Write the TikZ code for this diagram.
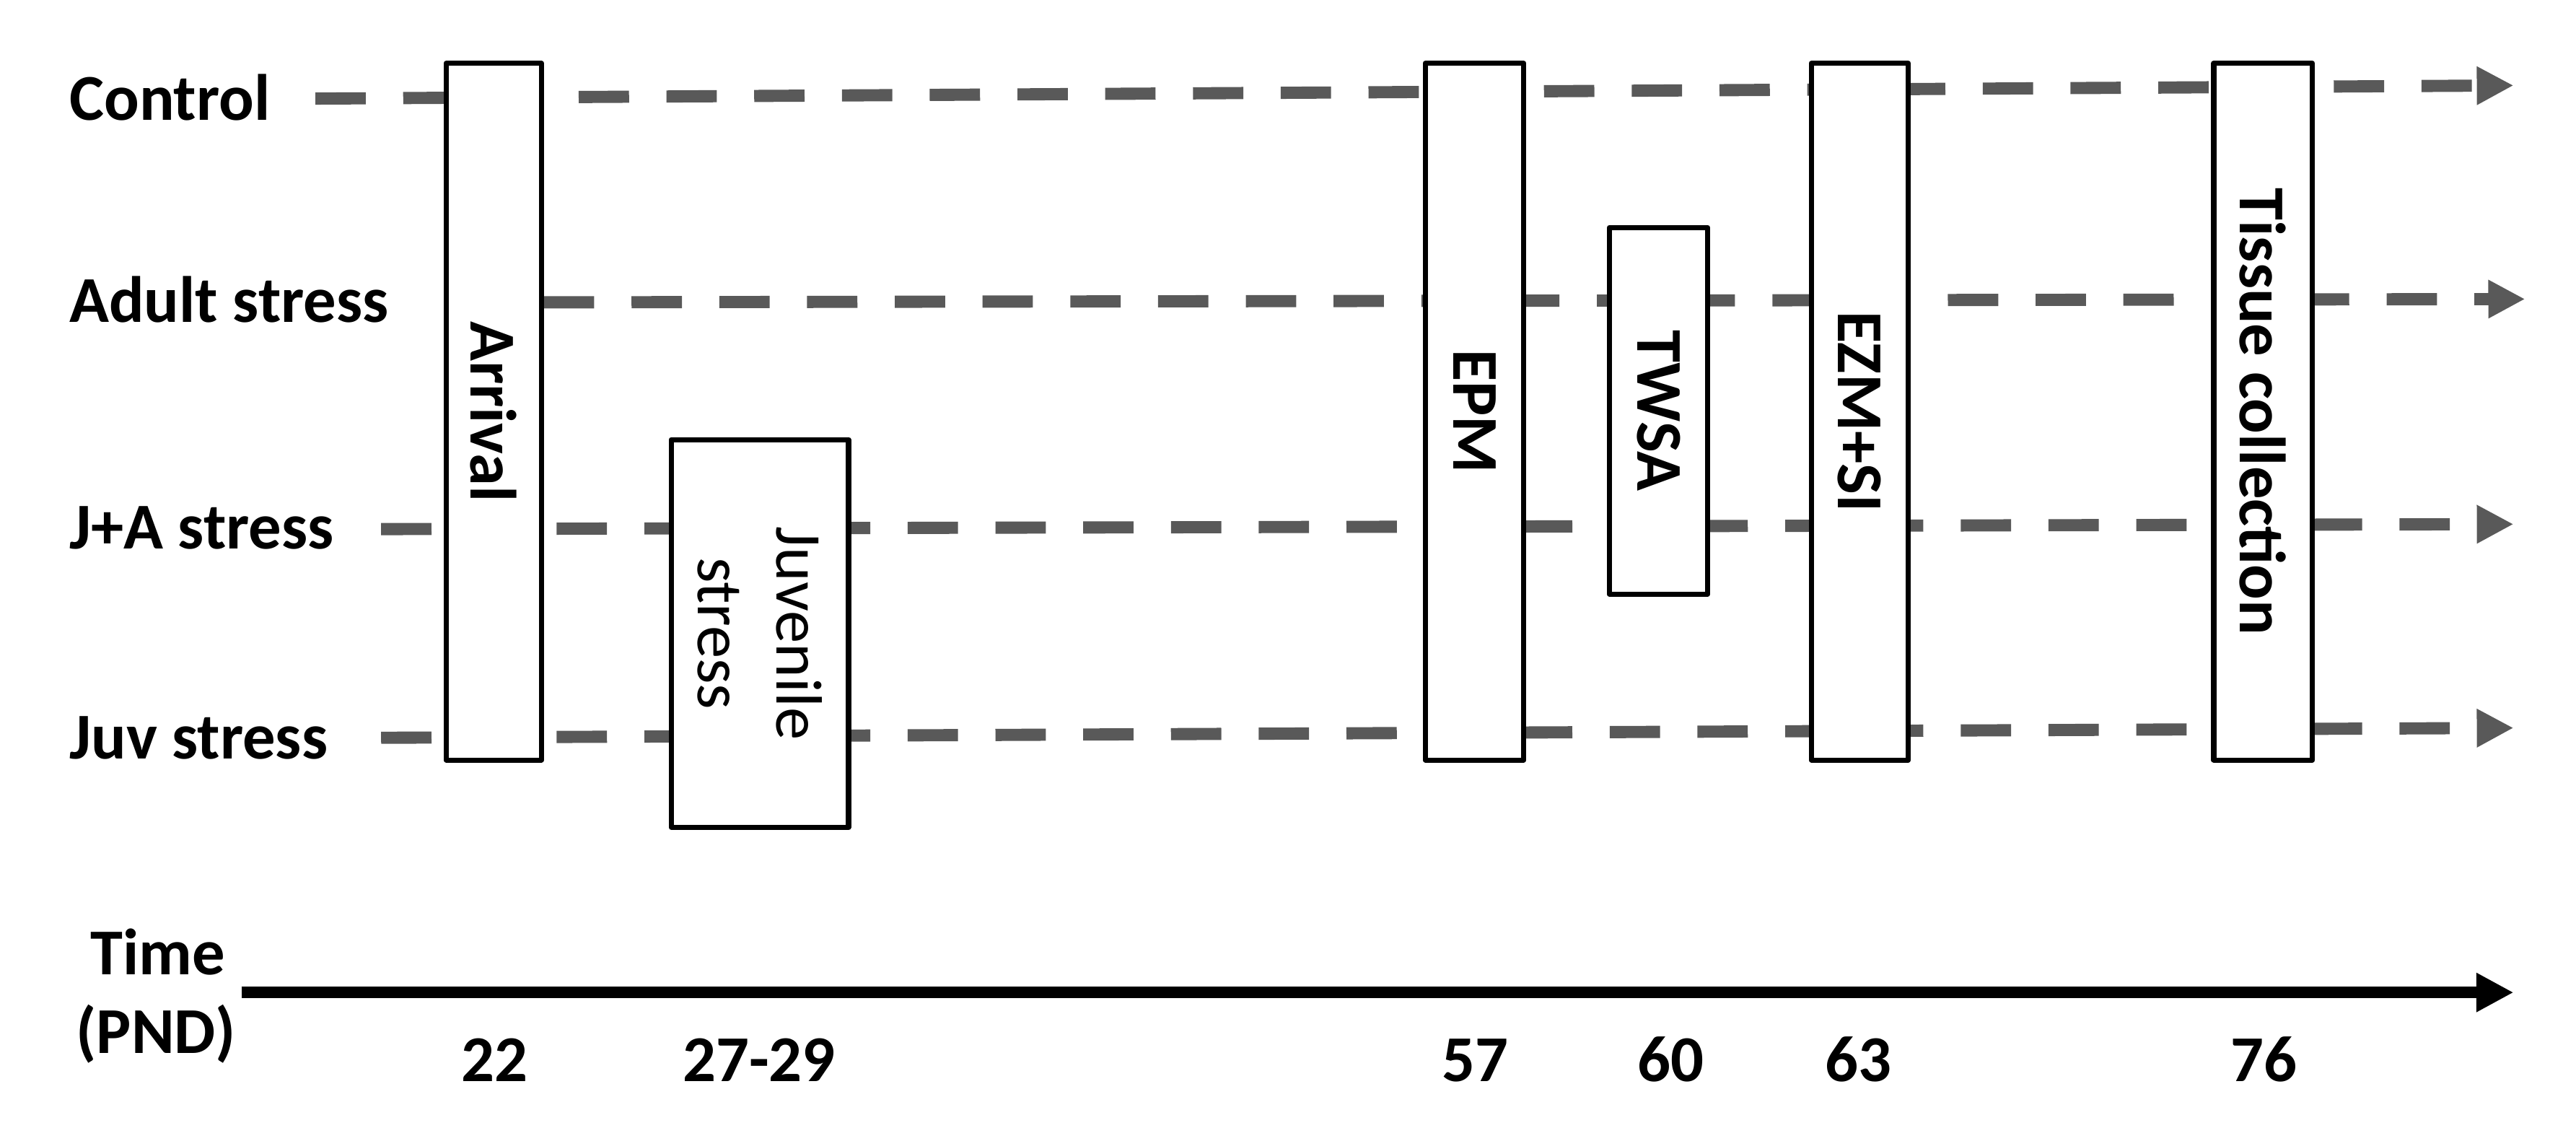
\documentclass[tikz,border=0pt]{standalone}
\usepackage{fontspec}
\setmainfont{Carlito}
\usetikzlibrary{arrows.meta}
\definecolor{dashgray}{HTML}{595959}
\begin{document}
\begin{tikzpicture}[x=0.022768cm,y=-0.022768cm,
  txt/.style={font=\fontsize{25.8}{31}\selectfont\bfseries, inner sep=0pt},
  rowline/.style={draw=dashgray, line width=4.8pt, dash pattern=on 19.85pt off 14.75pt,
    -{Triangle[length=14.5pt,width=14.2pt]}},
  box/.style={draw=black, fill=white, line width=2pt, line join=round, rotate=-90,
    inner sep=0pt, align=center, font=\fontsize{25.8}{31}\selectfont\bfseries},
  axisline/.style={draw=black, line width=4.6pt, -{Triangle[length=14.7pt,width=14.5pt]}}]
\useasboundingbox (0,0) rectangle (1568,694);

% row labels
\node[txt, anchor=base west] (lcontrol) at (42,73) {Control};
\node[txt, anchor=base west] (ladult) at (42,196) {Adult stress};
\node[txt, anchor=base west] (lja) at (42,334) {J+A stress};
\node[txt, anchor=base west] (ljuv) at (42,462) {Juv stress};

% rows
\coordinate (c0) at (192,60);  \coordinate (c1) at (1530,52);
\coordinate (a0) at (331,184); \coordinate (a1) at (1537,182);
\coordinate (j0) at (232,322); \coordinate (j1) at (1530,319);
\coordinate (v0) at (232,449); \coordinate (v1) at (1530,443);
\draw[rowline] (c0) -- (c1);
\draw[rowline] (a0) -- (a1);
\draw[rowline] (j0) -- (j1);
\draw[rowline] (v0) -- (v1);

% boxes
\node[box, minimum width=9.654cm, minimum height=1.321cm] (arrival) at (300.5,250.5) {Arrival};
\node[box, minimum width=5.373cm, minimum height=2.459cm, font=\fontsize{25.8}{31}\selectfont] (juvenile) at (462.5,385.5) {Juvenile\\stress};
\node[box, minimum width=9.654cm, minimum height=1.366cm] (epm) at (897.5,250.5) {EPM};
\node[box, minimum width=5.077cm, minimum height=1.366cm] (twsa) at (1009.5,250) {TWSA};
\node[box, minimum width=9.654cm, minimum height=1.343cm] (ezm) at (1132,250.5) {EZM+SI};
\node[box, minimum width=9.654cm, minimum height=1.366cm] (tissue) at (1377.5,250.5) {Tissue collection};

% time axis
\coordinate (t0) at (147,604); \coordinate (t1) at (1530,604);
\draw[axisline] (t0) -- (t1);
\node[txt, anchor=base] (time) at (96,593) {Time};
\node[txt, anchor=base] (pnd) at (95,641) {(PND)};

\node[txt, anchor=base] (n22) at (301,658) {22};
\node[txt, anchor=base] (n27) at (462,658) {27-29};
\node[txt, anchor=base] (n57) at (898,658) {57};
\node[txt, anchor=base] (n60) at (1017,658) {60};
\node[txt, anchor=base] (n63) at (1131,658) {63};
\node[txt, anchor=base] (n76) at (1378,658) {76};
\end{tikzpicture}
\end{document}
